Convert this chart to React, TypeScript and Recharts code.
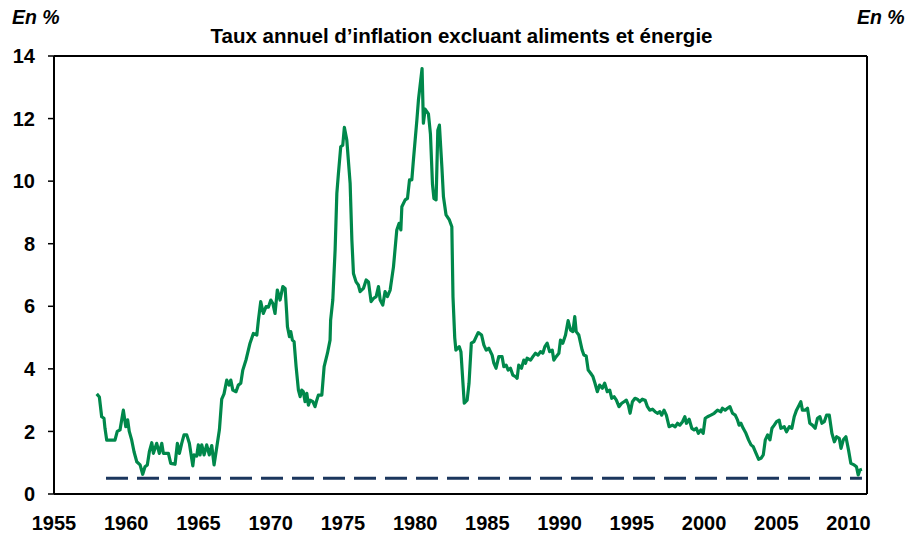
import React from "react";
import { LineChart, Line, XAxis, YAxis, ReferenceLine } from "recharts";

const coreYears = [
  1957.96, 1958.14, 1958.3, 1958.46, 1958.53, 1958.65, 1959.22, 1959.38, 1959.57, 1959.8,
  1959.97, 1960.1, 1960.21, 1960.38, 1960.54, 1960.73, 1960.96, 1961.14, 1961.3, 1961.46,
  1961.6, 1961.77, 1961.88, 1962.11, 1962.29, 1962.46, 1962.57, 1962.92, 1963.08, 1963.38,
  1963.54, 1963.68, 1963.84, 1964.0, 1964.19, 1964.37, 1964.61, 1964.7, 1964.88, 1964.99,
  1965.11, 1965.23, 1965.39, 1965.57, 1965.75, 1965.92, 1966.08, 1966.27, 1966.45, 1966.61,
  1966.77, 1966.96, 1967.12, 1967.24, 1967.38, 1967.6, 1967.76, 1967.93, 1968.07, 1968.3,
  1968.57, 1968.8, 1969.04, 1969.15, 1969.31, 1969.49, 1969.68, 1969.84, 1970.01, 1970.15,
  1970.3, 1970.46, 1970.65, 1970.84, 1971.0, 1971.11, 1971.16, 1971.3, 1971.39, 1971.5,
  1971.62, 1971.76, 1971.92, 1972.04, 1972.15, 1972.26, 1972.38, 1972.5, 1972.61, 1972.73,
  1972.92, 1973.07, 1973.19, 1973.3, 1973.54, 1973.7, 1973.93, 1974.11, 1974.15, 1974.3,
  1974.46, 1974.58, 1974.69, 1974.85, 1974.99, 1975.1, 1975.27, 1975.5, 1975.62, 1975.73,
  1975.91, 1976.07, 1976.19, 1976.42, 1976.61, 1976.77, 1976.95, 1977.11, 1977.3, 1977.46,
  1977.58, 1977.76, 1977.92, 1978.08, 1978.27, 1978.5, 1978.73, 1978.89, 1979.01, 1979.08,
  1979.31, 1979.47, 1979.61, 1979.77, 1979.88, 1980.12, 1980.23, 1980.48, 1980.57, 1980.69,
  1980.92, 1981.06, 1981.2, 1981.3, 1981.45, 1981.57, 1981.68, 1981.85, 1981.96, 1982.14,
  1982.37, 1982.54, 1982.62, 1982.74, 1982.82, 1983.05, 1983.17, 1983.4, 1983.6, 1983.73,
  1983.89, 1984.07, 1984.23, 1984.37, 1984.6, 1984.76, 1984.92, 1985.1, 1985.33, 1985.45,
  1985.6, 1985.79, 1986.02, 1986.14, 1986.3, 1986.44, 1986.6, 1986.76, 1986.95, 1987.06,
  1987.17, 1987.36, 1987.52, 1987.64, 1987.75, 1987.99, 1988.15, 1988.33, 1988.51, 1988.68,
  1988.84, 1988.98, 1989.14, 1989.31, 1989.49, 1989.6, 1989.76, 1989.95, 1990.06, 1990.22,
  1990.41, 1990.59, 1990.76, 1990.92, 1991.05, 1991.15, 1991.33, 1991.56, 1991.68, 1991.84,
  1991.98, 1992.15, 1992.31, 1992.45, 1992.61, 1992.77, 1992.96, 1993.12, 1993.3, 1993.47,
  1993.61, 1993.77, 1993.93, 1994.11, 1994.3, 1994.46, 1994.62, 1994.76, 1994.88, 1995.04,
  1995.22, 1995.38, 1995.55, 1995.73, 1995.92, 1996.08, 1996.24, 1996.43, 1996.61, 1996.77,
  1996.94, 1997.07, 1997.23, 1997.39, 1997.58, 1997.81, 1998.0, 1998.16, 1998.32, 1998.51,
  1998.67, 1998.78, 1998.97, 1999.15, 1999.31, 1999.47, 1999.61, 1999.78, 1999.94, 2000.08,
  2000.24, 2000.47, 2000.7, 2000.93, 2001.16, 2001.27, 2001.46, 2001.62, 2001.79, 2001.97,
  2002.16, 2002.32, 2002.43, 2002.55, 2002.71, 2002.9, 2003.08, 2003.25, 2003.41, 2003.6,
  2003.78, 2003.94, 2004.1, 2004.24, 2004.4, 2004.56, 2004.7, 2004.86, 2005.02, 2005.2,
  2005.32, 2005.55, 2005.71, 2005.9, 2006.08, 2006.24, 2006.4, 2006.58, 2006.7, 2006.81,
  2007.0, 2007.16, 2007.32, 2007.5, 2007.69, 2007.85, 2008.02, 2008.16, 2008.32, 2008.48,
  2008.67, 2008.85, 2009.02, 2009.18, 2009.36, 2009.48, 2009.64, 2009.82, 2010.0, 2010.16,
  2010.39, 2010.55, 2010.67, 2010.79, 2010.93,
];

const coreValues = [
  3.2, 3.1, 2.47, 2.42, 2.1, 1.72, 1.72, 2.0, 2.05, 2.68,
  2.15, 2.37, 2.0, 1.72, 1.35, 1.03, 0.93, 0.63, 0.87, 0.93,
  1.35, 1.64, 1.3, 1.62, 1.3, 1.62, 1.3, 1.3, 0.98, 0.95,
  1.62, 1.3, 1.62, 1.89, 1.89, 1.62, 0.9, 1.25, 1.21, 1.57,
  1.25, 1.57, 1.25, 1.57, 1.25, 1.55, 0.93, 1.5, 2.05, 3.03,
  3.2, 3.64, 3.48, 3.64, 3.32, 3.27, 3.48, 3.54, 3.96, 4.3,
  4.82, 5.13, 5.08, 5.56, 6.15, 5.77, 5.99, 5.97, 6.2, 6.09,
  5.77, 6.52, 6.2, 6.63, 6.57, 5.77, 5.35, 5.03, 5.19, 4.92,
  4.87, 4.07, 3.32, 3.11, 3.32, 3.27, 2.95, 3.22, 2.84, 3.0,
  2.95, 2.79, 3.0, 3.16, 3.16, 4.07, 4.5, 4.92, 5.56, 6.2,
  7.8, 9.61, 10.25, 11.1, 11.15, 11.72, 11.31, 9.93, 8.12, 7.05,
  6.78, 6.68, 6.47, 6.57, 6.84, 6.78, 6.15, 6.25, 6.31, 6.63,
  6.2, 6.04, 6.47, 6.31, 6.52, 7.26, 8.44, 8.65, 8.44, 9.18,
  9.4, 9.45, 10.04, 10.04, 10.67, 11.95, 12.6, 13.6, 11.85, 12.3,
  12.15, 11.5, 9.9, 9.45, 9.4, 11.63, 11.79, 10.46, 9.5, 8.92,
  8.76, 8.54, 6.3, 5.0, 4.6, 4.71, 4.55, 2.9, 3.0, 3.54,
  4.82, 4.87, 5.03, 5.16, 5.08, 4.76, 4.6, 4.66, 4.44, 4.18,
  4.02, 4.39, 4.39, 4.07, 4.12, 3.96, 4.02, 3.8, 3.75, 3.7,
  4.12, 4.02, 4.28, 4.18, 4.34, 4.28, 4.39, 4.5, 4.44, 4.55,
  4.5, 4.71, 4.82, 4.55, 4.6, 4.28, 4.39, 4.5, 4.92, 4.82,
  5.08, 5.54, 5.24, 5.19, 5.67, 5.19, 5.08, 4.6, 4.44, 4.41,
  3.96, 3.86, 3.75, 3.54, 3.27, 3.48, 3.38, 3.54, 3.27, 3.32,
  3.06, 3.11, 3.0, 2.79, 2.9, 2.95, 3.0, 2.84, 2.58, 2.95,
  3.06, 3.03, 2.95, 3.03, 3.0, 2.79, 2.68, 2.71, 2.63, 2.58,
  2.63, 2.52, 2.68, 2.52, 2.15, 2.2, 2.15, 2.26, 2.2, 2.31,
  2.47, 2.26, 2.39, 2.1, 2.05, 2.1, 1.94, 2.05, 1.94, 2.42,
  2.47, 2.52, 2.58, 2.68, 2.63, 2.74, 2.68, 2.74, 2.79, 2.58,
  2.52, 2.36, 2.2, 2.26, 2.1, 1.94, 1.73, 1.57, 1.51, 1.3,
  1.11, 1.14, 1.25, 1.73, 1.89, 1.73, 2.1, 2.2, 2.31, 2.36,
  2.1, 2.15, 1.99, 2.15, 2.1, 2.47, 2.68, 2.84, 2.95, 2.68,
  2.68, 2.74, 2.26, 2.2, 2.1, 2.42, 2.47, 2.26, 2.31, 2.52,
  2.52, 1.94, 1.67, 1.83, 1.78, 1.46, 1.73, 1.83, 1.41, 0.98,
  0.93, 0.87, 0.61, 0.77, 0.79,
];

const floorYears = [1958.6, 2010.93];
const floorValues = [0.5, 0.5];

const xTicks = [1955, 1960, 1965, 1970, 1975, 1980, 1985, 1990, 1995, 2000, 2005, 2010];
const yTicks = [0, 2, 4, 6, 8, 10, 12, 14];

const titleText = "Taux annuel d\u2019inflation excluant aliments et énergie";
const unitText = "En %";

const coreData = coreYears.map((year, i) => ({ year, value: coreValues[i] }));
const floorData = floorYears.map((year, i) => ({ year, floor: floorValues[i] }));

const FONT = "'Liberation Sans', Arial, sans-serif";
const tickStyle = { fontFamily: FONT, fontSize: 20, fontWeight: 700, fill: "#000" };

export default function App() {
  return (
    <div style={{ position: "absolute", left: 0, top: 0, width: 909, height: 537, background: "#fff", fontFamily: FONT }}>
      <div style={{ position: "absolute", left: 12, top: 6, fontSize: 19.5, lineHeight: "23px", fontWeight: 700, fontStyle: "italic", color: "#000" }}>{unitText}</div>
      <div style={{ position: "absolute", left: 857, top: 6, fontSize: 19.5, lineHeight: "23px", fontWeight: 700, fontStyle: "italic", color: "#000", whiteSpace: "nowrap" }}>{unitText}</div>
      <div style={{ position: "absolute", left: 0, width: 923, top: 24, textAlign: "center", fontSize: 20.5, lineHeight: "23px", fontWeight: 700, color: "#000", whiteSpace: "nowrap" }}>{titleText}</div>
      <LineChart width={909} height={537} margin={{ top: 56, right: 10, bottom: 8, left: 10 }}>
        <XAxis
          type="number"
          dataKey="year"
          domain={[1955, 2011.28]}
          ticks={xTicks}
          allowDataOverflow
          tickLine={false}
          tickSize={6}
          tickMargin={16}
          axisLine={{ stroke: "#000", strokeWidth: 2 }}
          tick={tickStyle}
          height={35}
          interval={0}
        />
        <YAxis
          yAxisId="left"
          orientation="left"
          domain={[0, 14]}
          ticks={yTicks}
          width={44}
          tickSize={6}
          tickMargin={13}
          axisLine={{ stroke: "#000", strokeWidth: 2 }}
          tickLine={{ stroke: "#000", strokeWidth: 1.5 }}
          tick={tickStyle}
          interval={0}
        />
        <YAxis
          yAxisId="right"
          orientation="right"
          domain={[0, 14]}
          ticks={yTicks}
          width={32}
          tickSize={6}
          tickMargin={10}
          axisLine={{ stroke: "#000", strokeWidth: 2 }}
          tickLine={{ stroke: "#000", strokeWidth: 1.5 }}
          tick={{ ...tickStyle, textAnchor: "start" }}
          interval={0}
        />
        <ReferenceLine yAxisId="left" y={14} stroke="#000" strokeWidth={2} />
        <Line
          yAxisId="left"
          data={floorData}
          dataKey="floor"
          type="linear"
          stroke="#1B365D"
          strokeWidth={3}
          strokeDasharray="22 9"
          dot={false}
          isAnimationActive={false}
        />
        <Line
          yAxisId="left"
          data={coreData}
          dataKey="value"
          type="linear"
          stroke="#00884B"
          strokeWidth={3.2}
          strokeLinejoin="round"
          dot={false}
          isAnimationActive={false}
        />
      </LineChart>
    </div>
  );
}
